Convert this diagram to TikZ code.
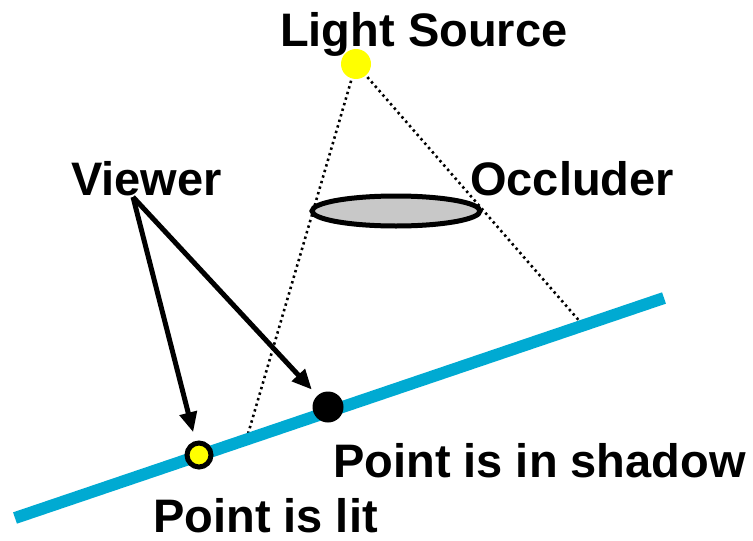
\documentclass[tikz,border=0pt]{standalone}
\usepackage{fontspec}
\setmainfont{Liberation Sans}
\usetikzlibrary{arrows.meta,shapes.geometric}
\definecolor{lineblue}{RGB}{0,170,210}
\definecolor{occgray}{RGB}{200,200,200}
\definecolor{lightyellow}{RGB}{255,255,0}
\tikzset{
  lbl/.style={font=\fontsize{47}{50}\selectfont\bfseries, inner sep=0pt, anchor=base west},
  ray/.style={line width=2.6pt, dash pattern=on 2.4pt off 3.4pt},
  viewarrow/.style={line width=5pt, -{Triangle[length=20pt,width=17pt]}},
}
\begin{document}
\begin{tikzpicture}[x=1pt,y=-1pt]
\useasboundingbox (0,0) rectangle (753,541);
% coordinates
\coordinate (lineA) at (15,518);
\coordinate (lineB) at (664,298);
\coordinate (hitL) at (248,434);
\coordinate (hitR) at (582,324);
\coordinate (eye) at (133,197);
% rays
\node[circle, minimum size=30pt, inner sep=0pt] (light) at (356,64) {};
\draw[ray] (light.center) -- (hitL);
\draw[ray] (light.center) -- (hitR);
% receiving surface
\draw[lineblue, line width=12pt] (lineA) -- (lineB);
% occluder
\node[ellipse, draw, line width=5pt, fill=occgray, minimum width=168pt, minimum height=30pt, inner sep=0pt] (occ) at (396,211) {};
% light
\node[circle, fill=lightyellow, minimum size=30pt, inner sep=0pt] (lightdisc) at (356,64) {};
% points
\node[circle, draw, line width=5pt, fill=lightyellow, minimum size=24pt, inner sep=0pt] (lit) at (199,455) {};
\node[circle, fill=black, minimum size=31pt, inner sep=0pt] (shad) at (328,407) {};
% labels
\node[lbl] (lsl) at (280,46) {Light Source};
\node[lbl] (occl) at (470,195) {Occluder};
\node[lbl] (viewl) at (71,195) {Viewer};
\node[lbl] (shadl) at (333,477) {Point is in shadow};
\node[lbl] (litl) at (153,532) {Point is lit};
% viewer arrows
\draw[viewarrow, shorten >=9pt] (eye) -- (lit);
\draw[viewarrow, shorten >=8pt] (eye) -- (shad);
\end{tikzpicture}
\end{document}
